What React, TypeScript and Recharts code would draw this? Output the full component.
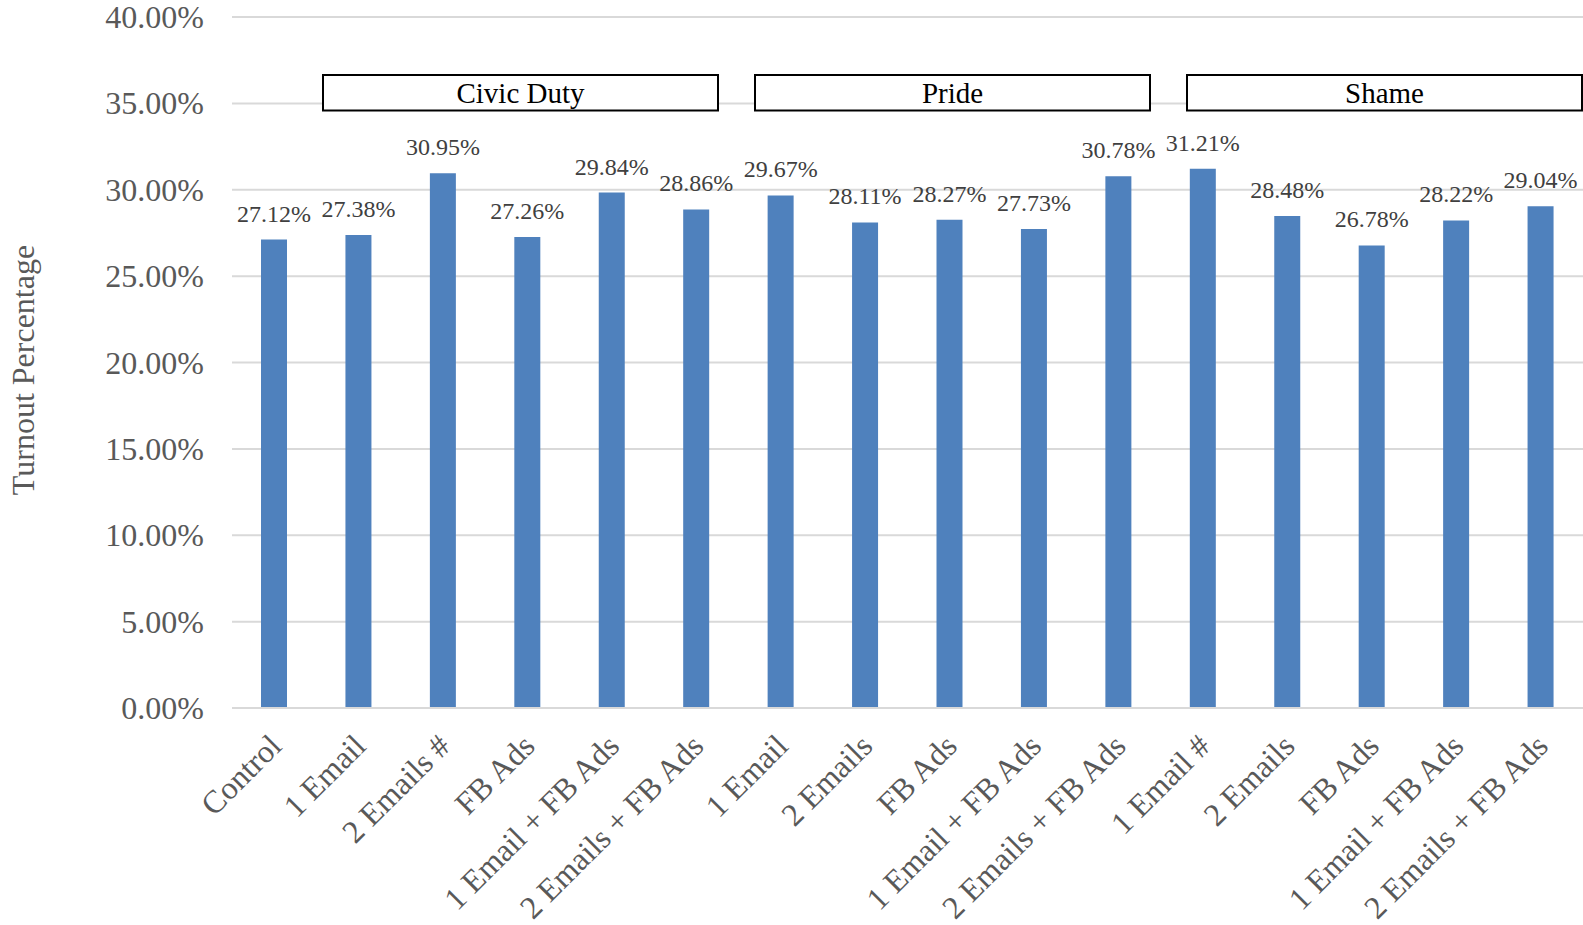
import { BarChart, Bar, XAxis, YAxis, CartesianGrid, LabelList } from 'recharts';

// categories along the x axis (left to right)
const categories = [
    'Control',
    '1 Email',
    '2 Emails #',
    'FB Ads',
    '1 Email + FB Ads',
    '2 Emails + FB Ads',
    '1 Email',
    '2 Emails',
    'FB Ads',
    '1 Email + FB Ads',
    '2 Emails + FB Ads',
    '1 Email #',
    '2 Emails',
    'FB Ads',
    '1 Email + FB Ads',
    '2 Emails + FB Ads',
];

// turnout in percent
const turnout = [
    27.12, 27.38, 30.95, 27.26, 29.84, 28.86, 29.67, 28.11, 28.27, 27.73, 30.78,
    31.21, 28.48, 26.78, 28.22, 29.04,
];

const yTicks = [0, 5, 10, 15, 20, 25, 30, 35, 40];

const groups = ['Civic Duty', 'Pride', 'Shame'];

// layout
const WIDTH = 1583;
const HEIGHT = 925;
const PLOT_LEFT = 232;
const PLOT_TOP = 17;
const X_AXIS_HEIGHT = 217;
const PLOT_BOTTOM = HEIGHT - X_AXIS_HEIGHT;
const GROUP_BOX_LEFT = [323, 755, 1187];
const GROUP_BOX_WIDTH = 395;
const GROUP_BOX_TOP = 75;
const GROUP_BOX_HEIGHT = 35.5;

const SERIF = '"Liberation Serif", "Times New Roman", serif';
const AXIS_GREY = '#595959';

const data = categories.map((name, i) => ({ name, value: turnout[i] }));

const YTick = ({ y, payload }: any) => (
    <text
        x={PLOT_LEFT - 28}
        y={y + 11}
        textAnchor="end"
        fill={AXIS_GREY}
        fontSize={32}
        fontFamily={SERIF}
    >
        {`${Number(payload.value).toFixed(2)}%`}
    </text>
);

const XTick = ({ x, index }: any) => (
    <text
        transform={`translate(${x + 9},${PLOT_BOTTOM + 40}) rotate(-45)`}
        textAnchor="end"
        fill={AXIS_GREY}
        fontSize={32}
        fontFamily={SERIF}
    >
        {categories[index]}
    </text>
);

const ValueLabel = ({ x, y, width, value }: any) => (
    <text
        x={x + width / 2}
        y={y - 18}
        textAnchor="middle"
        fill="#404040"
        fontSize={24}
        fontFamily={SERIF}
    >
        {`${Number(value).toFixed(2)}%`}
    </text>
);

export default function App() {
    return (
        <div style={{ position: 'relative', width: WIDTH, height: HEIGHT }}>
            <style>{'body { margin: 0; }'}</style>
            <BarChart
                width={WIDTH}
                height={HEIGHT}
                data={data}
                margin={{ top: PLOT_TOP, right: 0, left: 0, bottom: 0 }}
                barCategoryGap={0}
            >
                <CartesianGrid
                    vertical={false}
                    stroke="#d9d9d9"
                    strokeWidth={2}
                />
                <XAxis
                    dataKey="name"
                    interval={0}
                    height={X_AXIS_HEIGHT}
                    tickLine={false}
                    axisLine={{ stroke: '#d9d9d9', strokeWidth: 2 }}
                    tick={<XTick />}
                />
                <YAxis
                    width={PLOT_LEFT}
                    domain={[0, 40]}
                    ticks={yTicks}
                    axisLine={false}
                    tickLine={false}
                    tick={<YTick />}
                />
                <Bar
                    dataKey="value"
                    fill="#4f81bd"
                    barSize={26}
                    isAnimationActive={false}
                >
                    <LabelList dataKey="value" content={<ValueLabel />} />
                </Bar>
            </BarChart>

            {/* axis title and the group boxes across the top */}
            <svg
                width={WIDTH}
                height={HEIGHT}
                style={{ position: 'absolute', left: 0, top: 0, pointerEvents: 'none' }}
            >
                <text
                    transform={`translate(34,370) rotate(-90)`}
                    textAnchor="middle"
                    fill={AXIS_GREY}
                    fontSize={32}
                    fontFamily={SERIF}
                >
                    Turnout Percentage
                </text>
                {groups.map((g, i) => (
                    <g key={g}>
                        <rect
                            x={GROUP_BOX_LEFT[i]}
                            y={GROUP_BOX_TOP}
                            width={GROUP_BOX_WIDTH}
                            height={GROUP_BOX_HEIGHT}
                            fill="#fff"
                            stroke="#000"
                            strokeWidth={2}
                        />
                        <text
                            x={GROUP_BOX_LEFT[i] + GROUP_BOX_WIDTH / 2}
                            y={GROUP_BOX_TOP + 27.5}
                            textAnchor="middle"
                            fill="#000"
                            fontSize={29}
                            fontFamily={SERIF}
                        >
                            {g}
                        </text>
                    </g>
                ))}
            </svg>
        </div>
    );
}
